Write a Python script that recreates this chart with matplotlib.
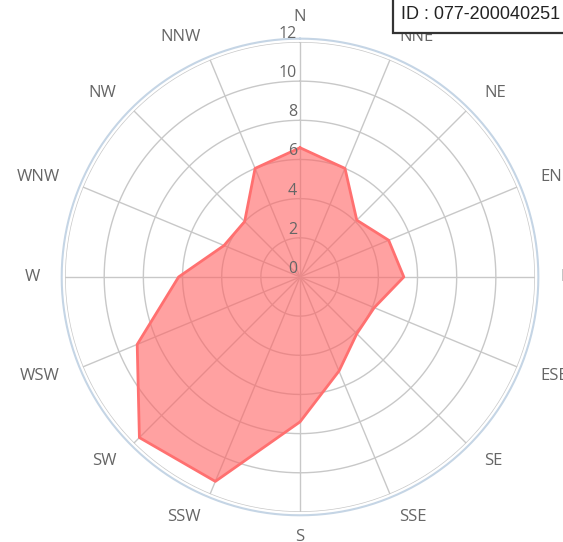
import numpy as np
import matplotlib
matplotlib.use("Agg")
import matplotlib.pyplot as plt
from matplotlib.patches import Rectangle
from matplotlib.transforms import offset_copy

directions = ["N", "NNE", "NE", "ENE", "E", "ESE", "SE", "SSE",
              "S", "SSW", "SW", "WSW", "W", "WNW", "NW", "NNW"]
frequency = [6.6, 6.0, 4.1, 4.9, 5.3, 4.1, 4.1, 5.2,
             7.4, 11.3, 11.6, 9.0, 6.2, 4.2, 4.0, 6.0]
radial_ticks = [0, 2, 4, 6, 8, 10, 12]
station_id = "ID : 077-200040251"

plt.rcParams["font.family"] = ["Open Sans", "DejaVu Sans"]

W, H = 563, 542
fig = plt.figure(figsize=(W / 100, H / 100), dpi=100)
ax = fig.add_axes([0.1155, 0.0554, 0.8348, 0.8672], projection="polar")
ax.set_theta_zero_location("N")
ax.set_theta_direction(-1)
ax.set_ylim(0, 12)

theta = np.deg2rad(np.arange(len(directions)) * 22.5)

# grid: rings + spokes
grid_col = "#c8c8c8"
ax.grid(False)
ax.set_xticks([])
ax.set_yticks([])
ax.spines["polar"].set_visible(False)
circ = np.linspace(0, 2 * np.pi, 361)
for r in radial_ticks[1:]:
    ax.plot(circ, np.full_like(circ, r), color=grid_col, lw=1, zorder=1)
for t in theta:
    ax.plot([t, t], [0, 12], color=grid_col, lw=1, zorder=1)
# outer rim
ax.plot(circ, np.full_like(circ, 12.17), color="#c5d5e5", lw=1.5,
        zorder=1, clip_on=False)

# data polygon
th = np.append(theta, theta[0])
vals = np.append(frequency, frequency[0])
ax.fill(th, vals, color=(1.0, 0.39, 0.39), alpha=0.6, lw=0, zorder=2)
ax.plot(th, vals, color="#ff7070", lw=2, zorder=3)

# radial tick labels along the north spoke
tick_tr = offset_copy(ax.transData, fig=fig, x=-3, y=0, units="dots")
for r in radial_ticks:
    ax.text(0, r, str(r), transform=tick_tr, ha="right", va="bottom",
            fontsize=11.5, color="#666666", zorder=4)

# compass labels, aligned away from the centre
for t, name in zip(theta, directions):
    s = np.sin(t)
    ha = "center" if abs(s) < 1e-6 else ("left" if s > 0 else "right")
    ax.text(t, 13.28, name, ha=ha, va="center", fontsize=12,
            color="#666666", clip_on=False)

# id box in the top-right corner
fig.patches.append(Rectangle((393 / W, 1 - 33 / H), 200 / W, 50 / H,
                             transform=fig.transFigure, fc="white",
                             ec="#333333", lw=1.6, clip_on=False))
fig.text(401 / W, 1 - 19 / H, station_id, ha="left", va="baseline",
         fontsize=13, family=["Liberation Sans", "DejaVu Sans"],
         color="#222222")

fig.savefig("out.png", dpi=100)
